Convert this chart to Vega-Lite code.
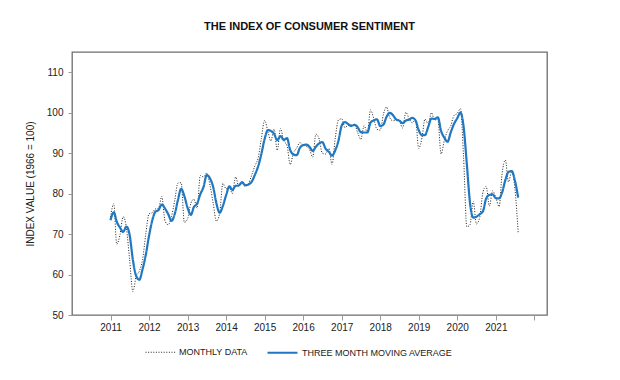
{
  "$schema": "https://vega.github.io/schema/vega-lite/v6.json",
  "autosize": {"type": "none"},
  "width": 475,
  "height": 263,
  "padding": {"left": 72, "top": 52, "right": 73, "bottom": 65},
  "background": "white",
  "config": {
    "font": "Liberation Sans",
    "view": {"stroke": "#6e6e6e", "strokeWidth": 1.3},
    "axis": {"grid": false, "domain": false, "tickColor": "#9a9a9a", "labelColor": "#222222", "titleColor": "#222222", "labelFont": "Liberation Sans", "titleFont": "Liberation Sans"}
  },
  "title": {"text": "THE INDEX OF CONSUMER SENTIMENT", "fontSize": 11, "fontWeight": "bold", "color": "#111111", "anchor": "middle", "offset": 20, "font": "Liberation Sans"},
  "data": {"values": [
    {"date": "2011-01-01", "monthly": 74.2, "ma3": 73.43},
    {"date": "2011-02-01", "monthly": 77.5, "ma3": 75.40},
    {"date": "2011-03-01", "monthly": 67.5, "ma3": 73.07},
    {"date": "2011-04-01", "monthly": 69.8, "ma3": 71.60},
    {"date": "2011-05-01", "monthly": 74.3, "ma3": 70.53},
    {"date": "2011-06-01", "monthly": 71.5, "ma3": 71.87},
    {"date": "2011-07-01", "monthly": 63.7, "ma3": 69.83},
    {"date": "2011-08-01", "monthly": 55.8, "ma3": 63.67},
    {"date": "2011-09-01", "monthly": 59.5, "ma3": 59.67},
    {"date": "2011-10-01", "monthly": 60.8, "ma3": 58.70},
    {"date": "2011-11-01", "monthly": 63.7, "ma3": 61.33},
    {"date": "2011-12-01", "monthly": 69.9, "ma3": 64.80},
    {"date": "2012-01-01", "monthly": 75.0, "ma3": 69.53},
    {"date": "2012-02-01", "monthly": 75.3, "ma3": 73.40},
    {"date": "2012-03-01", "monthly": 76.2, "ma3": 75.50},
    {"date": "2012-04-01", "monthly": 76.4, "ma3": 75.97},
    {"date": "2012-05-01", "monthly": 79.3, "ma3": 77.30},
    {"date": "2012-06-01", "monthly": 73.2, "ma3": 76.30},
    {"date": "2012-07-01", "monthly": 72.3, "ma3": 74.93},
    {"date": "2012-08-01", "monthly": 74.3, "ma3": 73.27},
    {"date": "2012-09-01", "monthly": 78.3, "ma3": 74.97},
    {"date": "2012-10-01", "monthly": 82.6, "ma3": 78.40},
    {"date": "2012-11-01", "monthly": 82.7, "ma3": 81.20},
    {"date": "2012-12-01", "monthly": 72.9, "ma3": 79.40},
    {"date": "2013-01-01", "monthly": 73.8, "ma3": 76.47},
    {"date": "2013-02-01", "monthly": 77.6, "ma3": 74.77},
    {"date": "2013-03-01", "monthly": 78.6, "ma3": 76.67},
    {"date": "2013-04-01", "monthly": 76.4, "ma3": 77.53},
    {"date": "2013-05-01", "monthly": 84.5, "ma3": 79.83},
    {"date": "2013-06-01", "monthly": 84.1, "ma3": 81.67},
    {"date": "2013-07-01", "monthly": 85.1, "ma3": 84.57},
    {"date": "2013-08-01", "monthly": 82.1, "ma3": 83.77},
    {"date": "2013-09-01", "monthly": 77.5, "ma3": 81.57},
    {"date": "2013-10-01", "monthly": 73.2, "ma3": 77.60},
    {"date": "2013-11-01", "monthly": 75.1, "ma3": 75.27},
    {"date": "2013-12-01", "monthly": 82.5, "ma3": 76.93},
    {"date": "2014-01-01", "monthly": 81.2, "ma3": 79.60},
    {"date": "2014-02-01", "monthly": 81.6, "ma3": 81.77},
    {"date": "2014-03-01", "monthly": 80.0, "ma3": 80.93},
    {"date": "2014-04-01", "monthly": 84.1, "ma3": 81.90},
    {"date": "2014-05-01", "monthly": 81.9, "ma3": 82.00},
    {"date": "2014-06-01", "monthly": 82.5, "ma3": 82.83},
    {"date": "2014-07-01", "monthly": 81.8, "ma3": 82.07},
    {"date": "2014-08-01", "monthly": 82.5, "ma3": 82.27},
    {"date": "2014-09-01", "monthly": 84.6, "ma3": 82.97},
    {"date": "2014-10-01", "monthly": 86.9, "ma3": 84.67},
    {"date": "2014-11-01", "monthly": 88.8, "ma3": 86.77},
    {"date": "2014-12-01", "monthly": 93.6, "ma3": 89.77},
    {"date": "2015-01-01", "monthly": 98.1, "ma3": 93.50},
    {"date": "2015-02-01", "monthly": 95.4, "ma3": 95.70},
    {"date": "2015-03-01", "monthly": 93.0, "ma3": 95.50},
    {"date": "2015-04-01", "monthly": 95.9, "ma3": 94.77},
    {"date": "2015-05-01", "monthly": 90.7, "ma3": 93.20},
    {"date": "2015-06-01", "monthly": 96.1, "ma3": 94.23},
    {"date": "2015-07-01", "monthly": 93.1, "ma3": 93.30},
    {"date": "2015-08-01", "monthly": 91.9, "ma3": 93.70},
    {"date": "2015-09-01", "monthly": 87.2, "ma3": 90.73},
    {"date": "2015-10-01", "monthly": 90.0, "ma3": 89.70},
    {"date": "2015-11-01", "monthly": 91.3, "ma3": 89.50},
    {"date": "2015-12-01", "monthly": 92.6, "ma3": 91.30},
    {"date": "2016-01-01", "monthly": 92.0, "ma3": 91.97},
    {"date": "2016-02-01", "monthly": 91.7, "ma3": 92.10},
    {"date": "2016-03-01", "monthly": 91.0, "ma3": 91.57},
    {"date": "2016-04-01", "monthly": 89.0, "ma3": 90.57},
    {"date": "2016-05-01", "monthly": 94.7, "ma3": 91.57},
    {"date": "2016-06-01", "monthly": 93.5, "ma3": 92.40},
    {"date": "2016-07-01", "monthly": 90.0, "ma3": 92.73},
    {"date": "2016-08-01", "monthly": 89.8, "ma3": 91.10},
    {"date": "2016-09-01", "monthly": 91.2, "ma3": 90.33},
    {"date": "2016-10-01", "monthly": 87.2, "ma3": 89.40},
    {"date": "2016-11-01", "monthly": 93.8, "ma3": 90.73},
    {"date": "2016-12-01", "monthly": 98.2, "ma3": 93.07},
    {"date": "2017-01-01", "monthly": 98.5, "ma3": 96.83},
    {"date": "2017-02-01", "monthly": 96.3, "ma3": 97.67},
    {"date": "2017-03-01", "monthly": 96.9, "ma3": 97.23},
    {"date": "2017-04-01", "monthly": 97.0, "ma3": 96.73},
    {"date": "2017-05-01", "monthly": 97.1, "ma3": 97.00},
    {"date": "2017-06-01", "monthly": 95.1, "ma3": 96.40},
    {"date": "2017-07-01", "monthly": 93.4, "ma3": 95.20},
    {"date": "2017-08-01", "monthly": 96.8, "ma3": 95.10},
    {"date": "2017-09-01", "monthly": 95.1, "ma3": 95.10},
    {"date": "2017-10-01", "monthly": 100.7, "ma3": 97.53},
    {"date": "2017-11-01", "monthly": 98.5, "ma3": 98.10},
    {"date": "2017-12-01", "monthly": 95.9, "ma3": 98.37},
    {"date": "2018-01-01", "monthly": 95.7, "ma3": 96.70},
    {"date": "2018-02-01", "monthly": 99.7, "ma3": 97.10},
    {"date": "2018-03-01", "monthly": 101.4, "ma3": 98.93},
    {"date": "2018-04-01", "monthly": 98.8, "ma3": 99.97},
    {"date": "2018-05-01", "monthly": 98.0, "ma3": 99.40},
    {"date": "2018-06-01", "monthly": 98.2, "ma3": 98.33},
    {"date": "2018-07-01", "monthly": 97.9, "ma3": 98.03},
    {"date": "2018-08-01", "monthly": 96.2, "ma3": 97.43},
    {"date": "2018-09-01", "monthly": 100.1, "ma3": 98.07},
    {"date": "2018-10-01", "monthly": 98.6, "ma3": 98.30},
    {"date": "2018-11-01", "monthly": 97.5, "ma3": 98.73},
    {"date": "2018-12-01", "monthly": 98.3, "ma3": 98.13},
    {"date": "2019-01-01", "monthly": 91.2, "ma3": 95.67},
    {"date": "2019-02-01", "monthly": 93.8, "ma3": 94.43},
    {"date": "2019-03-01", "monthly": 98.4, "ma3": 94.47},
    {"date": "2019-04-01", "monthly": 97.2, "ma3": 96.47},
    {"date": "2019-05-01", "monthly": 100.0, "ma3": 98.53},
    {"date": "2019-06-01", "monthly": 98.2, "ma3": 98.47},
    {"date": "2019-07-01", "monthly": 98.4, "ma3": 98.87},
    {"date": "2019-08-01", "monthly": 89.8, "ma3": 95.47},
    {"date": "2019-09-01", "monthly": 93.2, "ma3": 93.80},
    {"date": "2019-10-01", "monthly": 95.5, "ma3": 92.83},
    {"date": "2019-11-01", "monthly": 96.8, "ma3": 95.17},
    {"date": "2019-12-01", "monthly": 99.3, "ma3": 97.20},
    {"date": "2020-01-01", "monthly": 99.8, "ma3": 98.63},
    {"date": "2020-02-01", "monthly": 101.0, "ma3": 100.03},
    {"date": "2020-03-01", "monthly": 89.1, "ma3": 96.63},
    {"date": "2020-04-01", "monthly": 71.8, "ma3": 87.30},
    {"date": "2020-05-01", "monthly": 72.3, "ma3": 77.73},
    {"date": "2020-06-01", "monthly": 78.1, "ma3": 74.07},
    {"date": "2020-07-01", "monthly": 72.5, "ma3": 74.30},
    {"date": "2020-08-01", "monthly": 74.1, "ma3": 74.90},
    {"date": "2020-09-01", "monthly": 80.4, "ma3": 75.67},
    {"date": "2020-10-01", "monthly": 81.8, "ma3": 78.77},
    {"date": "2020-11-01", "monthly": 76.9, "ma3": 79.70},
    {"date": "2020-12-01", "monthly": 80.7, "ma3": 79.80},
    {"date": "2021-01-01", "monthly": 79.0, "ma3": 78.87},
    {"date": "2021-02-01", "monthly": 76.8, "ma3": 78.83},
    {"date": "2021-03-01", "monthly": 84.9, "ma3": 80.23},
    {"date": "2021-04-01", "monthly": 88.3, "ma3": 83.33},
    {"date": "2021-05-01", "monthly": 82.9, "ma3": 85.37},
    {"date": "2021-06-01", "monthly": 85.5, "ma3": 85.57},
    {"date": "2021-07-01", "monthly": 81.2, "ma3": 83.20},
    {"date": "2021-08-01", "monthly": 70.3, "ma3": 79.00}
  ]},
  "transform": [{"fold": ["monthly", "ma3"], "as": ["series", "value"]}],
  "mark": {"type": "line", "interpolate": "monotone"},
  "encoding": {
    "x": {
      "field": "date", "type": "temporal",
      "scale": {"domain": [{"year": 2010, "month": 1, "date": 1}, {"year": 2022, "month": 5, "date": 1}]},
      "axis": {
        "title": null,
        "values": [{"year": 2011}, {"year": 2012}, {"year": 2013}, {"year": 2014}, {"year": 2015}, {"year": 2016}, {"year": 2017}, {"year": 2018}, {"year": 2019}, {"year": 2020}, {"year": 2021}, {"year": 2022}],
        "labelExpr": "year(datum.value) == 2022 ? '' : timeFormat(datum.value, '%Y')",
        "labelFontSize": 10, "tickSize": 5, "labelPadding": 2, "labelFlush": false, "labelOverlap": false
      }
    },
    "y": {
      "field": "value", "type": "quantitative",
      "scale": {"domain": [50, 115], "nice": false, "zero": false},
      "axis": {
        "title": "INDEX VALUE (1966 = 100)",
        "values": [50, 60, 70, 80, 90, 100, 110],
        "labelFontSize": 10, "tickSize": 4, "labelPadding": 5,
        "titleFontSize": 10, "titleFontWeight": "normal", "titlePadding": 11
      }
    },
    "color": {
      "field": "series", "type": "nominal",
      "scale": {"domain": ["monthly", "ma3"], "range": ["#222222", "#1f78c1"]},
      "legend": {
        "title": null, "orient": "none", "direction": "horizontal",
        "legendX": 73, "legendY": 284,
        "symbolType": "stroke", "symbolSize": 900,
        "labelFontSize": 9, "labelColor": "#1a1a1a", "labelFont": "Liberation Sans",
        "labelOffset": 3, "columnPadding": 15,
        "labelExpr": "datum.label == 'monthly' ? 'MONTHLY DATA' : 'THREE MONTH MOVING AVERAGE'"
      }
    },
    "strokeDash": {
      "field": "series", "type": "nominal",
      "scale": {"domain": ["monthly", "ma3"], "range": [[1, 1.6], [1, 0]]},
      "legend": null
    },
    "strokeWidth": {
      "field": "series", "type": "nominal",
      "scale": {"domain": ["monthly", "ma3"], "range": [1, 2.2]},
      "legend": null
    }
  }
}
